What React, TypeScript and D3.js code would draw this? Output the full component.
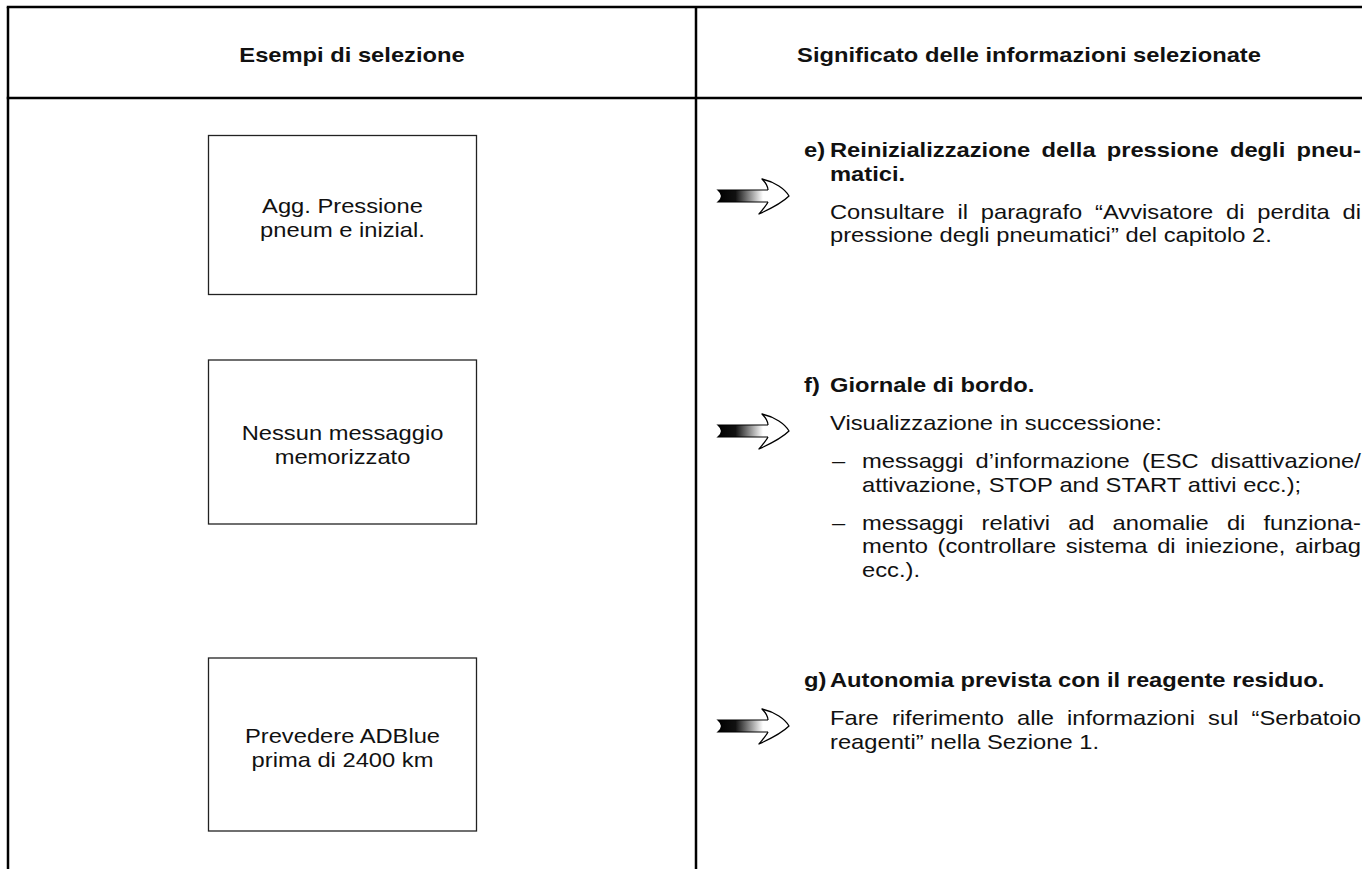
import React from "react";
import * as d3 from "d3";

// ---------- data ----------
const headerLabels = ["Esempi di selezione", "Significato delle informazioni selezionate"];

const selectionExamples: string[][] = [
  ["Agg. Pressione", "pneum e inizial."],
  ["Nessun messaggio", "memorizzato"],
  ["Prevedere ADBlue", "prima di 2400 km"],
];

const meaningLabels = ["e)", "f)", "g)"];

const meaningTitles: string[][] = [
  ["Reinizializzazione della pressione degli pneu-", "matici."],
  ["Giornale di bordo."],
  ["Autonomia prevista con il reagente residuo."],
];

// each block: kind "p" = paragraph, "li" = dash item; lines as broken in the source
const meaningBodies: { kind: string; lines: string[] }[][] = [
  [
    {
      kind: "p",
      lines: [
        "Consultare il paragrafo \u201CAvvisatore di perdita di",
        "pressione degli pneumatici\u201D del capitolo 2.",
      ],
    },
  ],
  [
    { kind: "p", lines: ["Visualizzazione in successione:"] },
    {
      kind: "li",
      lines: [
        "messaggi d\u2019informazione (ESC disattivazione/",
        "attivazione, STOP and START attivi ecc.);",
      ],
    },
    {
      kind: "li",
      lines: [
        "messaggi relativi ad anomalie di funziona-",
        "mento (controllare sistema di iniezione, airbag",
        "ecc.).",
      ],
    },
  ],
  [
    {
      kind: "p",
      lines: [
        "Fare riferimento alle informazioni sul \u201CSerbatoio",
        "reagenti\u201D nella Sezione 1.",
      ],
    },
  ],
];

// row bands (top/bottom of the example boxes) and section start baselines
const rowBoxTop = [135.5, 360, 658];
const rowBoxBottom = [294.5, 524, 831];
const rowTextStart = [157, 392, 687];

// ---------- layout ----------
const W = 1362;
const H = 869;
const FONT = '"Liberation Sans", Arial, Helvetica, sans-serif';
const FS = 21;
const SX = 1.13;
const LEFT_X = 8;
const MID_X = 696;
const TOP_Y = 7;
const HEAD_Y = 98;
const BOX_X0 = 208.5;
const BOX_X1 = 476.5;
const LABEL_X = 804;
const TITLE_X = 830;
const BODY_X = 830;
const DASH_X = 832;
const ITEM_X = 862;
const RIGHT_X = 1361;
const LINE = 23.5;
const PARA = 38;
const ARROW_X = 718;
const BOX_LINE = 24;

let ctx: CanvasRenderingContext2D | null = null;
function measure(t: string, bold: boolean) {
  if (!ctx) {
    const c = document.createElement("canvas");
    ctx = c.getContext("2d");
  }
  if (!ctx) return t.length * 10;
  ctx.font = `${bold ? "bold " : ""}${FS}px ${FONT}`;
  return ctx.measureText(t).width * SX;
}

function Line({ text, x, y, bold, justify }: { text: string; x: number; y: number; bold?: boolean; justify?: boolean }) {
  const words = text.split(" ");
  const widths = words.map((w) => measure(w, !!bold));
  const sum = d3.sum(widths);
  const space = measure(" ", !!bold);
  const gap = justify && words.length > 1 ? (RIGHT_X - x - sum) / (words.length - 1) : space;
  let cx = x;
  const out: React.ReactNode[] = [];
  words.forEach((w, i) => {
    out.push(
      <text
        key={i}
        transform={`translate(${cx},${y}) scale(${SX},1)`}
        fontFamily={FONT}
        fontSize={FS}
        fontWeight={bold ? "bold" : "normal"}
        fill="#111"
      >
        {w}
      </text>
    );
    cx += widths[i] + gap;
  });
  return <g>{out}</g>;
}

function Arrow({ cy }: { cy: number }) {
  return (
    <g transform={`translate(${ARROW_X},${cy})`}>
      <path d="M0,-6 L50,-6 L50,6 L0,6 Q7,0 0,-6 Z" fill="url(#shaftGrad)" stroke="none" />
      <path d="M50,-6 L0,-6 Q7,0 0,6 L50,6" fill="none" stroke="#000" strokeWidth={1.2} />
      <path
        d="M50,-6 C50,-10 47,-14 44,-17 C57,-14 67,-7 71,0 C64,7 52,13 41,18 C45,13 48,10 50,6"
        fill="#fff"
        stroke="#000"
        strokeWidth={1.3}
        strokeLinejoin="round"
      />
    </g>
  );
}

export default function App() {
  const y = d3.scaleLinear().domain([0, 1]).range([0, 1]);
  const blocks: React.ReactNode[] = [];

  meaningTitles.forEach((title, r) => {
    let by = y(rowTextStart[r]);
    blocks.push(<Line key={`lab${r}`} text={meaningLabels[r]} x={LABEL_X} y={by} bold />);
    title.forEach((t, i) => {
      blocks.push(
        <Line key={`t${r}-${i}`} text={t} x={TITLE_X} y={by} bold justify={i < title.length - 1} />
      );
      if (i < title.length - 1) by += LINE;
    });
    meaningBodies[r].forEach((blk, bi) => {
      by += PARA;
      const tx = blk.kind === "li" ? ITEM_X : BODY_X;
      if (blk.kind === "li") {
        blocks.push(<Line key={`d${r}-${bi}`} text={"\u2013"} x={DASH_X} y={by} />);
      }
      blk.lines.forEach((ln, li) => {
        blocks.push(
          <Line key={`b${r}-${bi}-${li}`} text={ln} x={tx} y={by} justify={li < blk.lines.length - 1} />
        );
        if (li < blk.lines.length - 1) by += LINE;
      });
    });
  });

  return (
    <svg width={W} height={H} style={{ position: "absolute", left: 0, top: 0, background: "#fff" }}>
      <defs>
        <linearGradient id="shaftGrad" x1="0" x2="1" y1="0" y2="0">
          <stop offset="0" stopColor="#000" />
          <stop offset="0.35" stopColor="#111" />
          <stop offset="0.9" stopColor="#fff" />
          <stop offset="1" stopColor="#fff" />
        </linearGradient>
      </defs>
      <rect x={0} y={0} width={W} height={H} fill="#fff" />

      {/* grid lines */}
      <g stroke="#000" strokeWidth={2.5}>
        <line x1={LEFT_X - 1.25} x2={W} y1={TOP_Y} y2={TOP_Y} />
        <line x1={LEFT_X - 1.25} x2={W} y1={HEAD_Y} y2={HEAD_Y} />
        <line x1={LEFT_X} x2={LEFT_X} y1={TOP_Y} y2={H} />
        <line x1={MID_X} x2={MID_X} y1={TOP_Y} y2={H} />
      </g>

      {/* headers */}
      {headerLabels.map((h, i) => {
        const cx = i === 0 ? (LEFT_X + MID_X) / 2 : (MID_X + W) / 2;
        return (
          <text
            key={h}
            transform={`translate(${cx},${(TOP_Y + HEAD_Y) / 2 + 9}) scale(${SX},1)`}
            textAnchor="middle"
            fontFamily={FONT}
            fontSize={FS}
            fontWeight="bold"
            fill="#111"
          >
            {h}
          </text>
        );
      })}

      {/* example boxes */}
      {selectionExamples.map((lines, r) => {
        const top = rowBoxTop[r];
        const bot = rowBoxBottom[r];
        const mid = (top + bot) / 2;
        const cx = (BOX_X0 + BOX_X1) / 2;
        return (
          <g key={r}>
            <rect x={BOX_X0} y={top} width={BOX_X1 - BOX_X0} height={bot - top} fill="#fff" stroke="#222" strokeWidth={1.3} />
            {lines.map((t, i) => (
              <text
                key={i}
                transform={`translate(${cx},${mid + 10 + (i - (lines.length - 1) / 2) * BOX_LINE}) scale(${SX},1)`}
                textAnchor="middle"
                fontFamily={FONT}
                fontSize={FS}
                fill="#111"
              >
                {t}
              </text>
            ))}
          </g>
        );
      })}

      {/* arrows */}
      {rowTextStart.map((s, r) => (
        <Arrow key={r} cy={s + 39} />
      ))}

      {blocks}
    </svg>
  );
}
